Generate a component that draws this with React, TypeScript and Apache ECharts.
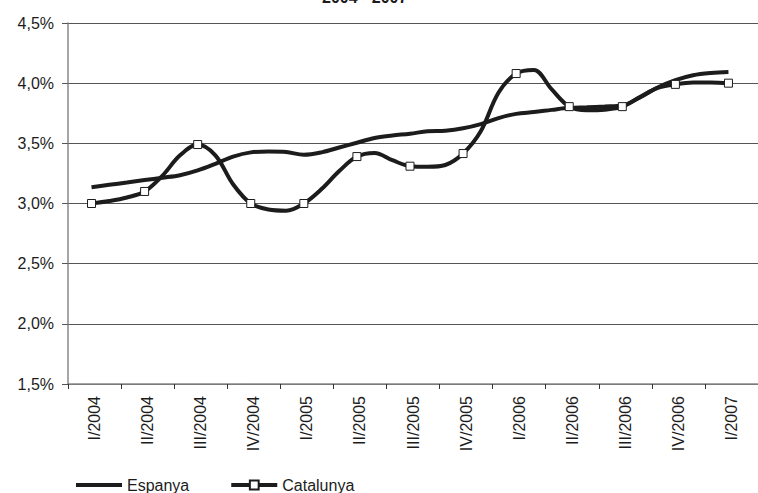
import React, { useEffect, useRef } from "react";
import * as echarts from "echarts";

const quarterLabels = [
  "I/2004", "II/2004", "III/2004", "IV/2004",
  "I/2005", "II/2005", "III/2005", "IV/2005",
  "I/2006", "II/2006", "III/2006", "IV/2006", "I/2007",
];

// monthly values, Jan 2004 .. Jan 2007 (37 points)
const espanya = [
  3.135, 3.155, 3.175, 3.195, 3.214, 3.235, 3.275, 3.33, 3.39, 3.425,
  3.432, 3.428, 3.405, 3.425, 3.465, 3.505, 3.545, 3.565, 3.58, 3.6,
  3.605, 3.625, 3.66, 3.71, 3.745, 3.76, 3.778, 3.795, 3.8, 3.806,
  3.814, 3.882, 3.964, 4.025, 4.066, 4.085, 4.093,
];

const catalunya = [
  3.0, 3.02, 3.05, 3.1, 3.23, 3.4, 3.49, 3.4, 3.16, 3.0,
  2.95, 2.94, 3.0, 3.12, 3.27, 3.39, 3.42, 3.36, 3.31, 3.305,
  3.32, 3.415, 3.6, 3.92, 4.08, 4.11, 3.95, 3.805, 3.775, 3.78,
  3.805, 3.885, 3.96, 3.99, 4.005, 4.005, 4.0,
];

const titleText = "2004 - 2007";

export default function App() {
  const ref = useRef<HTMLDivElement>(null);
  useEffect(() => {
    if (!ref.current) return;
    const chart = echarts.init(ref.current, null, { renderer: "svg" });
    const font = "'Liberation Sans', Arial, sans-serif";
    const lineColor = "#1c1c1c";
    chart.setOption({
      animation: false,
      backgroundColor: "#ffffff",
      title: {
        text: titleText,
        left: 322,
        top: -11,
        padding: 0,
        textStyle: { fontFamily: font, fontSize: 16, fontWeight: "bold", color: "#1c1c1c" },
      },
      legend: {
        data: [
          { name: "Espanya", icon: "path://M0,0H46V4H0Z" },
          { name: "Catalunya" },
        ],
        left: 76,
        top: 477,
        padding: 0,
        itemWidth: 46,
        itemHeight: 11,
        itemGap: 40,
        lineStyle: { width: 4 },
        textStyle: { fontFamily: font, fontSize: 16, color: "#1c1c1c" },
      },
      grid: { left: 68, top: 23, bottom: 109, right: -5, containLabel: false },
      xAxis: [
        {
          type: "category",
          data: quarterLabels,
          boundaryGap: true,
          axisLine: { onZero: false, lineStyle: { color: "#888888", width: 1.5 } },
          axisTick: { show: true, interval: 0, length: 5, lineStyle: { color: "#333333" } },
          axisLabel: {
            interval: 0,
            rotate: 90,
            margin: 12,
            fontFamily: font,
            fontSize: 16,
            color: "#1c1c1c",
          },
          splitLine: { show: false },
        },
        {
          type: "value",
          show: false,
          min: -1.33,
          max: 37.67,
          splitLine: { show: false },
        },
      ],
      yAxis: {
        type: "value",
        min: 1.5,
        max: 4.5,
        interval: 0.5,
        axisLine: { show: true, onZero: false, lineStyle: { color: "#888888", width: 1.5 } },
        axisTick: { show: true, length: 6, lineStyle: { color: "#555555" } },
        axisLabel: {
          margin: 14,
          fontFamily: font,
          fontSize: 16,
          color: "#1c1c1c",
          formatter: (v: number) => v.toFixed(1).replace(".", ",") + "%",
        },
        splitLine: { show: true, lineStyle: { color: "#555555", width: 1 } },
      },
      series: [
        {
          name: "Espanya",
          type: "line",
          xAxisIndex: 1,
          smooth: 0.35,
          symbol: "none",
          lineStyle: { color: lineColor, width: 4 },
          itemStyle: { color: lineColor },
          data: espanya.map((v, i) => [i, v]),
        },
        {
          name: "Catalunya",
          type: "line",
          xAxisIndex: 1,
          smooth: 0.35,
          symbol: "rect",
          symbolSize: 8,
          showAllSymbol: true,
          lineStyle: { color: lineColor, width: 4 },
          itemStyle: { color: "#ffffff", borderColor: lineColor, borderWidth: 1 },
          data: catalunya.map((v, i) =>
            i % 3 === 0 ? { value: [i, v] } : { value: [i, v], symbol: "none" }
          ),
        },
      ],
    });
    return () => chart.dispose();
  }, []);
  return (
    <div
      ref={ref}
      style={{ position: "fixed", left: 0, top: 0, width: 758, height: 493, background: "#fff" }}
    />
  );
}
